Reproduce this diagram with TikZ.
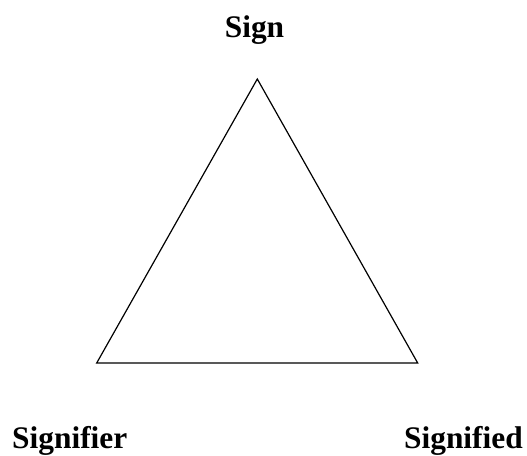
\documentclass[tikz,border=0pt]{standalone}
\usepackage{fontspec}
\setmainfont{Liberation Serif}
\usetikzlibrary{positioning}
\tikzset{
  term/.style={inner sep=0pt, font=\fontsize{31.4}{36}\selectfont\bfseries},
  edge/.style={line width=1.2pt, line join=miter}
}

\begin{document}
\begin{tikzpicture}[x=1pt, y=-1pt]
  \useasboundingbox (0,0) rectangle (527,455);
  % corners of the triangle
  \coordinate (top) at (257.3,79);
  \coordinate (left) at (96.7,363);
  \coordinate (right) at (417.7,363);
  \draw[edge] (top) -- (left) -- (right) -- cycle;
  % labels
  \node[term, anchor=base] (sign) at (254.5,37) {Sign};
  \node[term, anchor=base west] (signifier) at (12,448) {Signifier};
  \node[term, anchor=base east] (signified) at (523,448) {Signified};
\end{tikzpicture}
\end{document}
